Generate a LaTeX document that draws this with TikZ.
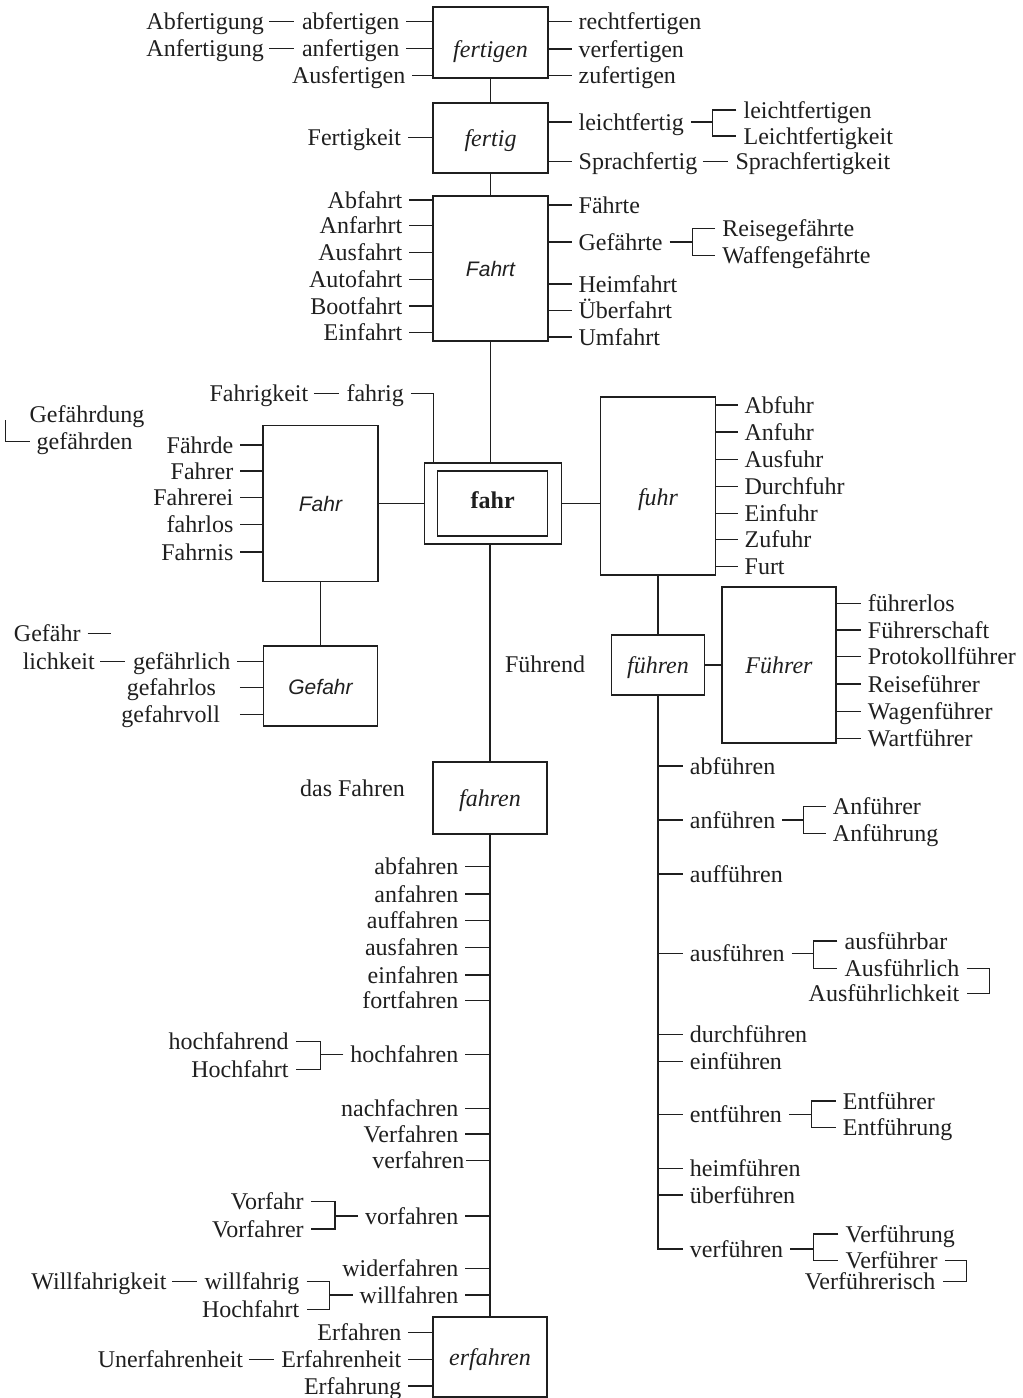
\documentclass[tikz,border=0pt]{standalone}
\usepackage{fontspec}
\setmainfont{Liberation Serif}
\newfontfamily\sansfam{Liberation Sans}
\usetikzlibrary{positioning}
\colorlet{ink}{black!88}
\tikzset{wd/.style={inner sep=0pt,text height=8pt,text depth=0pt},
         lw/.style={wd,anchor=east},
         rw/.style={wd,anchor=west},
         wbox/.style={draw,inner sep=0pt,text height=8pt,text depth=0pt},
         sfit/.style={font=\sansfam\itshape\fontsize{10.5}{12}\selectfont},
         dsh/.style={shorten <=2.5pt,shorten >=3.5pt},
         fromw/.style={shorten <=3.2pt},
         tow/.style={shorten >=3.2pt},
         brk/.style={shorten <=3.3pt,shorten >=3.3pt}
}

\begin{document}
\begin{tikzpicture}[x=.5pt,y=-.5pt,line width=.65pt,color=ink,font=\fontsize{12}{14}\selectfont]
  \useasboundingbox (0,0) rectangle (1023,1398);
  % the boxes
  \node[wbox,minimum width=57.5pt,minimum height=35.5pt] (fertigen) at (490.5,42.5) {\raisebox{-3.4pt}{\itshape fertigen}};
  \node[wbox,minimum width=57.5pt,minimum height=35pt] (fertig) at (490.5,138) {\itshape fertig};
  \node[wbox,sfit,minimum width=57.5pt,minimum height=72.5pt] (Fahrt) at (490.5,268.5) {Fahrt};
  \node[wbox,minimum width=68.5pt,minimum height=40.5pt] (fahr) at (492.7,503.5) {};
  \node[wbox,minimum width=55pt,minimum height=32.5pt] (fahrin) at (fahr) {\raisebox{1.6pt}{\bfseries fahr}};
  \node[wbox,sfit,minimum width=57.5pt,minimum height=78pt] (Fahr) at (320.5,503.5) {Fahr};
  \node[wbox,sfit,minimum width=57pt,minimum height=40pt] (Gefahr) at (320.5,686) {Gefahr};
  \node[wbox,minimum width=57.5pt,minimum height=89pt] (fuhr) at (658,486) {\raisebox{-5.7pt}{\itshape fuhr}};
  \node[wbox,minimum width=46.5pt,minimum height=30pt] (fuehren) at (658,665) {\itshape führen};
  \node[wbox,minimum width=57pt,minimum height=78pt] (Fuehrer) at (779,665) {\itshape Führer};
  \node[wbox,minimum width=57pt,minimum height=36pt] (fahren) at (490,798) {\itshape fahren};
  \node[wbox,minimum width=57pt,minimum height=40pt] (erfahren) at (490,1357) {\itshape erfahren};
  \draw (fertigen) -- (fertig);
  \draw (fertig) -- (Fahrt);
  \draw (Fahrt.south) -- (Fahrt.south |- fahr.north);
  \draw (fahr.south -| fahren.north) -- (fahren.north);
  \draw (fahren) -- (erfahren);
  \draw (Fahr) -- (fahr);
  \draw (Fahr) -- (Gefahr);
  \draw (fahr.east) -- (fahr.east -| fuhr.west);
  \draw (fuhr) -- (fuehren);
  \draw (fuehren) -- (Fuehrer);
  % fertigen
  \node[lw] (abf) at (400,21.7) {abfertigen};
  \node[lw,left=18.5pt of abf] (Abf) {Abfertigung};
  \node[lw] (anf) at (400,48.3) {anfertigen};
  \node[lw,left=18.5pt of anf] (Anf) {Anfertigung};
  \node[lw] (ausf) at (406,75.5) {Ausfertigen};
  \draw[dsh] (Abf.east) -- (abf.west);
  \draw[dsh] (Anf.east) -- (anf.west);
  \foreach \n in {abf,anf,ausf}
    \draw[fromw] (\n.east) -- (fertigen.west |- \n);
  \foreach \w/\y [count=\i] in {rechtfertigen/21.7,verfertigen/49,zufertigen/75.5} {
    \node[rw] (fgr\i) at (578,\y) {\w};
    \draw[tow] (fertigen.east |- fgr\i) -- (fgr\i.west);
  }
  % fertig
  \node[lw] (fk) at (401.7,137.3) {Fertigkeit};
  \draw[fromw] (fk.east) -- (fertig.west |- fk);
  \node[rw] (lf) at (578,122) {leichtfertig};
  \node[rw] (sf) at (578,161.3) {Sprachfertig};
  \node[rw,right=18.5pt of sf] (sfk) {Sprachfertigkeit};
  \draw[tow] (fertig.east |- lf) -- (lf.west);
  \draw[tow] (fertig.east |- sf) -- (sf.west);
  \draw[dsh] (sf.east) -- (sfk.west);
  \coordinate (lfb) at (712.7,122);
  \node[rw] (lf1) at (743,110) {leichtfertigen};
  \node[rw] (lf2) at (743,136) {Leichtfertigkeit};
  \draw[fromw] (lf.east) -- (lfb);
  \draw[brk] (lf1.west) -| (lfb) |- (lf2.west);
  % Fahrt
  \foreach \w/\y [count=\i] in {Abfahrt/200,Anfarhrt/225.5,Ausfahrt/252.3,Autofahrt/279.3,Bootfahrt/306,Einfahrt/332.3} {
    \node[lw] (ftl\i) at (403,\y) {\w};
    \draw[fromw] (ftl\i.east) -- (Fahrt.west |- ftl\i);
  }
  \foreach \w/\y [count=\i] in {Fährte/205,Gefährte/242,Heimfahrt/284,Überfahrt/310.7,Umfahrt/337} {
    \node[rw] (ftr\i) at (578,\y) {\w};
    \draw[tow] (Fahrt.east |- ftr\i) -- (ftr\i.west);
  }
  \coordinate (gfb) at (692.7,242);
  \node[rw] (gf1) at (721.7,228.7) {Reisegefährte};
  \node[rw] (gf2) at (721.7,255.7) {Waffengefährte};
  \draw[fromw] (ftr2.east) -- (gfb);
  \draw[brk] (gf1.west) -| (gfb) |- (gf2.west);
  % fahr
  \node[lw] (fg) at (404.5,393.3) {fahrig};
  \node[lw,left=18.5pt of fg] (fgk) {Fahrigkeit};
  \draw[dsh] (fgk.east) -- (fg.west);
  \draw[fromw] (fg.east) -| ([xshift=5pt]fahr.north west);
  % Fahr
  \foreach \w/\y [count=\i] in {Fährde/445,Fahrer/471,Fahrerei/497.3,fahrlos/524.7,Fahrnis/552} {
    \node[lw] (fl\i) at (234,\y) {\w};
    \draw[fromw] (fl\i.east) -- (Fahr.west |- fl\i);
  }
  \node[rw] (gdg) at (29,414) {Gefährdung};
  \node[rw] (gdn) at (36,441.7) {gefährden};
  \coordinate (gdtop) at (5.5,420);
  \draw[tow] (gdtop) |- (gdn.west);
  % Gefahr
  \node[rw] (gfh) at (13.3,633.3) {Gefähr};
  \coordinate[right=15pt of gfh.east] (gfhe);
  \draw[fromw] (gfh.east) -- (gfhe);
  \node[lw] (gfl) at (231,661.7) {gefährlich};
  \node[lw,left=18.5pt of gfl] (lk) {lichkeit};
  \node[lw] (gflos) at (216.7,687.3) {gefahrlos};
  \node[lw] (gfv) at (220.7,714.3) {gefahrvoll};
  \draw[dsh] (lk.east) -- (gfl.west);
  \draw[fromw] (gfl.east) -- (Gefahr.west |- gfl);
  \draw[shorten <=11.6pt] (gflos.east) -- (Gefahr.west |- gflos);
  \draw[shorten <=9.6pt] (gfv.east) -- (Gefahr.west |- gfv);
  \node[rw] (fd) at (504.4,664) {Führend};
  % fuhr
  \foreach \w/\y [count=\i] in {Abfuhr/405,Anfuhr/432,Ausfuhr/459.7,Durchfuhr/486.7,Einfuhr/513.3,Zufuhr/539.3,Furt/566.7} {
    \node[rw] (fu\i) at (744,\y) {\w};
    \draw[tow] (fuhr.east |- fu\i) -- (fu\i.west);
  }
  % Fuehrer
  \foreach \w/\y [count=\i] in {führerlos/603.3,Führerschaft/630,Protokollführer/656.7,Reiseführer/684,Wagenführer/711.7,Wartführer/738.3} {
    \node[rw] (fr\i) at (867.3,\y) {\w};
    \draw[tow] (Fuehrer.east |- fr\i) -- (fr\i.west);
  }
  % fuehren
  \foreach \n/\w/\y in {abf/abführen/766,anf/anführen/820,auff/aufführen/874,ausf/ausführen/953.3,durchf/durchführen/1034.3,einf/einführen/1061.7,entf/entführen/1114.3,heimf/heimführen/1168.3,ueberf/überführen/1195} {
    \node[rw] (v\n) at (689.3,\y) {\w};
    \draw[tow] (fuehren.south |- v\n) -- (v\n.west);
  }
  \node[rw] (vverf) at (689.3,1249) {verführen};
  \draw[tow] (fuehren.south) |- (vverf.west);
  \coordinate (anb) at (803.3,820);
  \node[rw] (an1) at (832.3,806.7) {Anführer};
  \node[rw] (an2) at (832.3,833.3) {Anführung};
  \draw[fromw] (vanf.east) -- (anb);
  \draw[brk] (an1.west) -| (anb) |- (an2.west);
  \coordinate (ausb) at (813.3,953.3);
  \node[rw] (au1) at (844,941) {ausführbar};
  \node[rw] (au2) at (844,968.3) {Ausführlich};
  \node[lw] (au3) at (960,993.3) {Ausführlichkeit};
  \coordinate (ausr) at (989.3,980.8);
  \draw[fromw] (vausf.east) -- (ausb);
  \draw[brk] (au1.west) -| (ausb) |- (au2.west);
  \draw[brk] (au2.east) -| (ausr) |- (au3.east);
  \coordinate (entb) at (811.7,1114.3);
  \node[rw] (en1) at (842.3,1101) {Entführer};
  \node[rw] (en2) at (842.3,1127.7) {Entführung};
  \draw[fromw] (ventf.east) -- (entb);
  \draw[brk] (en1.west) -| (entb) |- (en2.west);
  \coordinate (verb) at (813.3,1249);
  \node[rw] (ve1) at (845,1234) {Verführung};
  \node[rw] (ve2) at (845,1260.7) {Verführer};
  \node[lw] (ve3) at (936,1281.7) {Verführerisch};
  \coordinate (verr) at (966.7,1271.2);
  \draw[fromw] (vverf.east) -- (verb);
  \draw[brk] (ve1.west) -| (verb) |- (ve2.west);
  \draw[brk] (ve2.east) -| (verr) |- (ve3.east);
  % fahren
  \node[lw] (dF) at (405.4,788) {das Fahren};
  \foreach \n/\w/\y in {fab/abfahren/866.7,fan/anfahren/894,fauf/auffahren/920.7,faus/ausfahren/947.3,fein/einfahren/975,ffort/fortfahren/1000.7,fhoch/hochfahren/1054.3,fnach/nachfachren/1108.3,fVer/Verfahren/1134,fvor/vorfahren/1216,fwider/widerfahren/1268.3,fwill/willfahren/1295} {
    \node[lw] (\n) at (459,\y) {\w};
    \draw[fromw] (\n.east) -- (fahren.south |- \n);
  }
  \node[lw] (fver) at (465,1160.7) {verfahren};
  \draw[shorten <=.5pt] (fver.east) -- (fahren.south |- fver);
  \coordinate (hochb) at (320.7,1054.3);
  \node[lw] (hoch1) at (289.3,1041.7) {hochfahrend};
  \node[lw] (hoch2) at (289.3,1069.3) {Hochfahrt};
  \draw[fromw] (fhoch.west) -- (hochb);
  \draw[brk] (hoch1.east) -| (hochb) |- (hoch2.east);
  \coordinate (vorb) at (335,1216);
  \node[lw] (vor1) at (304.3,1201.7) {Vorfahr};
  \node[lw] (vor2) at (304.3,1229) {Vorfahrer};
  \draw[fromw] (fvor.west) -- (vorb);
  \draw[brk] (vor1.east) -| (vorb) |- (vor2.east);
  \coordinate (willb) at (329.3,1295);
  \node[lw] (will1) at (300,1281.7) {willfahrig};
  \node[lw,left=18.5pt of will1] (willk) {Willfahrigkeit};
  \node[lw] (will2) at (300,1309.3) {Hochfahrt};
  \draw[dsh] (willk.east) -- (will1.west);
  \draw[fromw] (fwill.west) -- (willb);
  \draw[brk] (will1.east) -| (willb) |- (will2.east);
  % erfahren
  \node[lw] (er1) at (402,1332.3) {Erfahren};
  \node[lw] (er2) at (402,1359.3) {Erfahrenheit};
  \node[lw,left=18.5pt of er2] (uer) {Unerfahrenheit};
  \node[lw] (er3) at (402,1386) {Erfahrung};
  \draw[dsh] (uer.east) -- (er2.west);
  \foreach \n in {er1,er2,er3}
    \draw[fromw] (\n.east) -- (erfahren.west |- \n);
\end{tikzpicture}
\end{document}
